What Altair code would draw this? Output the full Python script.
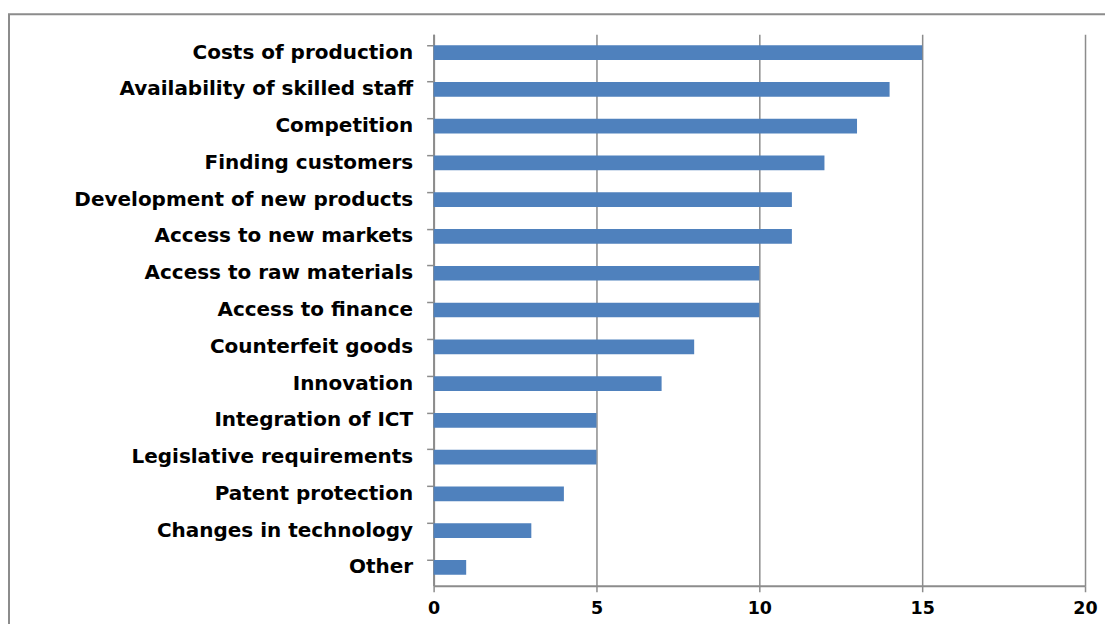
import altair as alt
import pandas as pd

categories = [
    "Costs of production",
    "Availability of skilled staff",
    "Competition",
    "Finding customers",
    "Development of new products",
    "Access to new markets",
    "Access to raw materials",
    "Access to finance",
    "Counterfeit goods",
    "Innovation",
    "Integration of ICT",
    "Legislative requirements",
    "Patent protection",
    "Changes in technology",
    "Other",
]
values = [15, 14, 13, 12, 11, 11, 10, 10, 8, 7, 5, 5, 4, 3, 1]
x_ticks = [0, 5, 10, 15, 20]

df = pd.DataFrame({"category": categories, "value": values})

FONT = "DejaVu Sans"
GRAY = "#8c8c8c"

frame = alt.Chart(pd.DataFrame({"a": [0]})).mark_rect(
    fill=None, stroke=GRAY, strokeWidth=2
).encode(
    x=alt.value(-425), x2=alt.value(900),
    y=alt.value(-20), y2=alt.value(800),
)

bars = alt.Chart(df).mark_bar(color="#4F81BD").encode(
    x=alt.X(
        "value:Q",
        scale=alt.Scale(domain=[0, 20], nice=False, zero=True),
        axis=alt.Axis(
            values=x_ticks, title=None, grid=True, gridColor=GRAY, gridWidth=1.5,
            domainColor=GRAY, domainWidth=2, tickColor=GRAY, tickWidth=1.5, tickSize=6,
            labelFont=FONT, labelFontWeight="bold", labelFontSize=17.5, labelColor="black",
            labelPadding=8, labelFlush=False,
        ),
    ),
    y=alt.Y(
        "category:N",
        sort=None,
        scale=alt.Scale(paddingInner=0.6, paddingOuter=0.3),
        axis=alt.Axis(
            title=None, bandPosition=0, grid=False,
            domainColor=GRAY, domainWidth=2, tickColor=GRAY, tickWidth=1.5, tickSize=7,
            labelFont=FONT, labelFontWeight="bold", labelFontSize=20, labelColor="black",
            labelPadding=14, labelLimit=500,
        ),
    ),
)

chart = alt.layer(frame, bars).properties(
    width=652, height=552,
    autosize=alt.AutoSizeParams(type="none"),
    padding={"left": 426, "top": 26, "right": 20, "bottom": 38},
    background="white",
).configure_view(stroke=None)

chart.save("out.html", embed_options={"renderer": "svg", "actions": False})
